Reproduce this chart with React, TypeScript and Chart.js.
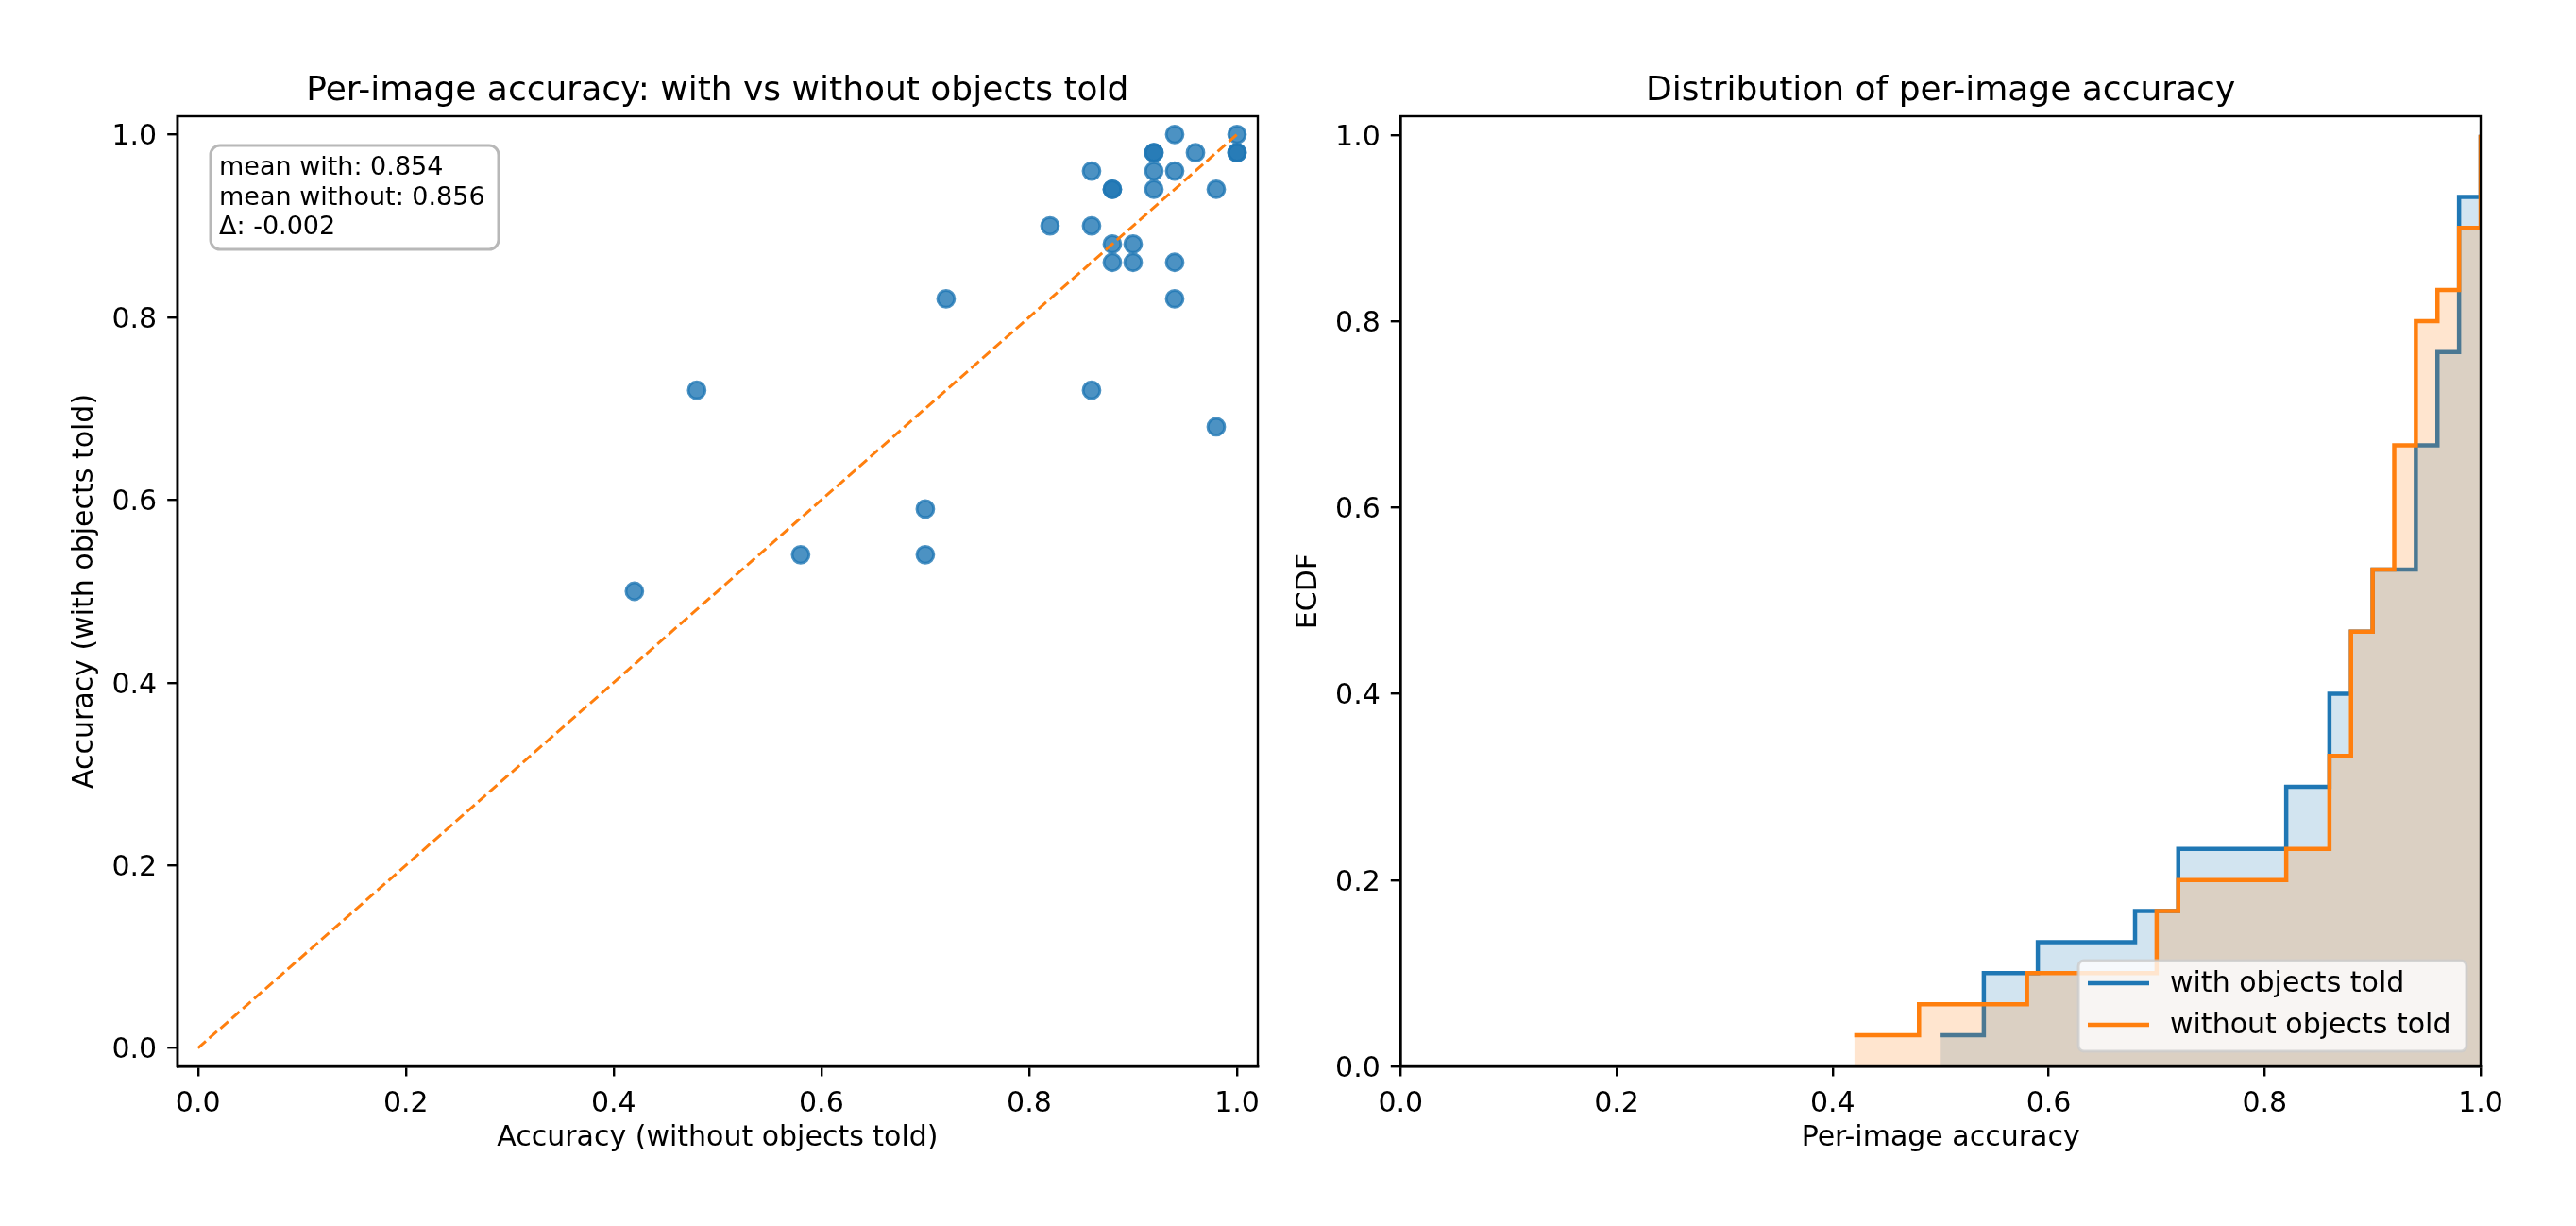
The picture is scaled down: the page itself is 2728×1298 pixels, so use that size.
import React, { useEffect, useRef } from "react";
import { Chart, registerables } from "chart.js";

Chart.register(...registerables);

// Per-image accuracy, paired by image: without objects told (x) and with objects told (y)
const accuracyWithout = [
  0.42, 0.48, 0.58, 0.7, 0.7, 0.72, 0.82, 0.86, 0.86, 0.86,
  0.88, 0.88, 0.88, 0.88, 0.9, 0.9, 0.92, 0.92, 0.92, 0.92,
  0.94, 0.94, 0.94, 0.94, 0.96, 0.98, 0.98, 1.0, 1.0, 1.0,
];
const accuracyWith = [
  0.5, 0.72, 0.54, 0.59, 0.54, 0.82, 0.9, 0.96, 0.9, 0.72,
  0.94, 0.94, 0.88, 0.86, 0.88, 0.86, 0.98, 0.98, 0.96, 0.94,
  1.0, 0.96, 0.86, 0.82, 0.98, 0.94, 0.68, 1.0, 0.98, 0.98,
];
const tickValues = [0, 0.2, 0.4, 0.6, 0.8, 1.0];
const diagonal = [
  { x: 0, y: 0 },
  { x: 1, y: 1 },
];

const scatterTitle = "Per-image accuracy: with vs without objects told";
const ecdfTitle = "Distribution of per-image accuracy";
const seriesNames = ["with objects told", "without objects told"];

const FONT = "'DejaVu Sans', sans-serif";
const BLUE = "#1f77b4";
const ORANGE = "#ff7f0e";
const CANVAS_W = 1364;
const CANVAS_H = 1298;

const mean = (a: number[]) => a.reduce((s, v) => s + v, 0) / a.length;

// Empirical CDF: sorted values with cumulative fractions
function ecdf(values: number[]) {
  const sorted = [...values].sort((a, b) => a - b);
  return sorted.map((v, i) => ({ x: v, y: (i + 1) / sorted.length }));
}

function roundRect(ctx: CanvasRenderingContext2D, x: number, y: number, w: number, h: number, r: number) {
  ctx.beginPath();
  ctx.moveTo(x + r, y);
  ctx.lineTo(x + w - r, y);
  ctx.arcTo(x + w, y, x + w, y + r, r);
  ctx.lineTo(x + w, y + h - r);
  ctx.arcTo(x + w, y + h, x + w - r, y + h, r);
  ctx.lineTo(x + r, y + h);
  ctx.arcTo(x, y + h, x, y + h - r, r);
  ctx.lineTo(x, y + r);
  ctx.arcTo(x, y, x + r, y, r);
  ctx.closePath();
}

// Full box frame around the plotting area (top and right spines included)
const framePlugin = {
  id: "frame",
  afterDraw(chart: any) {
    const { ctx, chartArea } = chart;
    const { left, top, right, bottom } = chartArea;
    ctx.save();
    ctx.strokeStyle = "#000";
    ctx.lineWidth = 2.4;
    ctx.strokeRect(left, top, right - left, bottom - top);
    ctx.restore();
  },
};

const headlinePlugin = (text: string) => ({
  id: "headline",
  afterDraw(chart: any) {
    const { ctx, chartArea } = chart;
    ctx.save();
    ctx.font = `36px ${FONT}`;
    ctx.fillStyle = "#000";
    ctx.textAlign = "center";
    ctx.textBaseline = "alphabetic";
    ctx.fillText(text, (chartArea.left + chartArea.right) / 2, 106);
    ctx.restore();
  },
});

const statsPlugin = {
  id: "stats",
  afterDraw(chart: any) {
    const { ctx } = chart;
    const mw = mean(accuracyWith);
    const mo = mean(accuracyWithout);
    const lines = [
      `mean with: ${mw.toFixed(3)}`,
      `mean without: ${mo.toFixed(3)}`,
      `Δ: ${(mw - mo).toFixed(3)}`,
    ];
    ctx.save();
    roundRect(ctx, 223, 154, 305, 110, 10);
    ctx.fillStyle = "#fff";
    ctx.fill();
    ctx.strokeStyle = "#b8b8b8";
    ctx.lineWidth = 3;
    ctx.stroke();
    ctx.font = `27px ${FONT}`;
    ctx.fillStyle = "#000";
    ctx.textAlign = "left";
    ctx.textBaseline = "alphabetic";
    lines.forEach((t, i) => ctx.fillText(t, 232, 185 + i * 31.7));
    ctx.restore();
  },
};

const legendPlugin = {
  id: "ecdfLegend",
  afterDatasetsDraw(chart: any) {
    const { ctx } = chart;
    const x0 = 837;
    const y0 = 1017;
    ctx.save();
    roundRect(ctx, x0, y0, 411, 96, 6);
    ctx.fillStyle = "rgba(255,255,255,0.8)";
    ctx.fill();
    ctx.strokeStyle = "rgba(204,204,204,0.8)";
    ctx.lineWidth = 3;
    ctx.stroke();
    const colors = [BLUE, ORANGE];
    ctx.font = `30px ${FONT}`;
    ctx.textAlign = "left";
    ctx.textBaseline = "middle";
    seriesNames.forEach((name, i) => {
      const y = 1041 + i * 44;
      ctx.strokeStyle = colors[i];
      ctx.lineWidth = 4.5;
      ctx.beginPath();
      ctx.moveTo(x0 + 10, y);
      ctx.lineTo(x0 + 75, y);
      ctx.stroke();
      ctx.fillStyle = "#000";
      ctx.fillText(name, x0 + 97, y + 1);
    });
    ctx.restore();
  },
};

function axis(min: number, max: number, title: string, horizontal: boolean, fixed: number) {
  return {
    type: "linear" as const,
    min,
    max,
    afterBuildTicks: (s: any) => {
      s.ticks = tickValues.map((v) => ({ value: v }));
    },
    afterFit: (s: any) => {
      if (horizontal) s.height = fixed;
      else s.width = fixed;
    },
    ticks: {
      callback: (v: any) => Number(v).toFixed(1),
      font: { family: FONT, size: 30 },
      color: "#000",
      padding: horizontal ? 12 : 11,
      labelOffset: horizontal ? 0 : 3,
      maxRotation: 0,
      autoSkip: false,
    },
    grid: {
      display: true,
      drawOnChartArea: false,
      drawTicks: true,
      tickLength: 10.5,
      tickWidth: 2.4,
      tickColor: "#000",
      lineWidth: 2.4,
      color: "#000",
    },
    border: { display: true, color: "#000", width: 2.4 },
    title: {
      display: true,
      text: title,
      font: { family: FONT, size: 30, lineHeight: 1.2 },
      color: "#000",
      padding: 0,
    },
  };
}

const baseOptions = {
  responsive: false,
  animation: false as const,
  devicePixelRatio: 1,
  events: [] as any[],
  plugins: { legend: { display: false }, tooltip: { enabled: false }, title: { display: false } },
};

export default function App() {
  const leftRef = useRef<HTMLCanvasElement>(null);
  const rightRef = useRef<HTMLCanvasElement>(null);

  useEffect(() => {
    const points = accuracyWithout.map((x, i) => ({ x, y: accuracyWith[i] }));

    const scatter = new Chart(leftRef.current!, {
      type: "scatter",
      data: {
        datasets: [
          {
            type: "line",
            data: diagonal,
            borderColor: ORANGE,
            borderWidth: 3,
            borderDash: [11, 4.8],
            borderCapStyle: "butt",
            pointRadius: 0,
            fill: false,
          } as any,
          {
            data: points,
            backgroundColor: "rgba(31,119,180,0.8)",
            borderColor: "rgba(31,119,180,0.8)",
            borderWidth: 3,
            pointRadius: 8.9,
          },
        ],
      },
      options: {
        ...baseOptions,
        layout: { padding: { left: 72.5, right: 32, top: 123, bottom: 75 } },
        scales: {
          x: axis(-0.02, 1.02, "Accuracy (without objects told)", true, 94),
          y: axis(-0.02, 1.02, "Accuracy (with objects told)", false, 115.2),
        },
      } as any,
      plugins: [framePlugin, headlinePlugin(scatterTitle), statsPlugin],
    });

    // "before" in Chart.js runs horizontally first, then rises: a post-step ECDF
    const ecdfChart = new Chart(rightRef.current!, {
      type: "line",
      data: {
        datasets: [
          {
            label: seriesNames[0],
            data: ecdf(accuracyWith),
            stepped: "before",
            borderColor: BLUE,
            borderWidth: 4.5,
            borderJoinStyle: "miter",
            backgroundColor: "rgba(31,119,180,0.2)",
            fill: "origin",
            pointRadius: 0,
            order: 2,
          },
          {
            label: seriesNames[1],
            data: ecdf(accuracyWithout),
            stepped: "before",
            borderColor: ORANGE,
            borderWidth: 4.5,
            borderJoinStyle: "miter",
            backgroundColor: "rgba(255,127,14,0.2)",
            fill: "origin",
            pointRadius: 0,
            order: 1,
          },
        ],
      },
      options: {
        ...baseOptions,
        parsing: false,
        layout: { padding: { left: 4.7, right: 101, top: 123, bottom: 75 } },
        scales: {
          x: axis(0, 1, "Per-image accuracy", true, 94),
          y: axis(0, 1.02, "ECDF", false, 114.6),
        },
      } as any,
      plugins: [framePlugin, headlinePlugin(ecdfTitle), legendPlugin],
    });

    return () => {
      scatter.destroy();
      ecdfChart.destroy();
    };
  }, []);

  return (
    <div style={{ position: "absolute", left: 0, top: 0, width: 2728, height: 1298, background: "#fff" }}>
      <canvas ref={leftRef} width={CANVAS_W} height={CANVAS_H} style={{ position: "absolute", left: 0, top: 0 }} />
      <canvas ref={rightRef} width={CANVAS_W} height={CANVAS_H} style={{ position: "absolute", left: CANVAS_W, top: 0 }} />
    </div>
  );
}
